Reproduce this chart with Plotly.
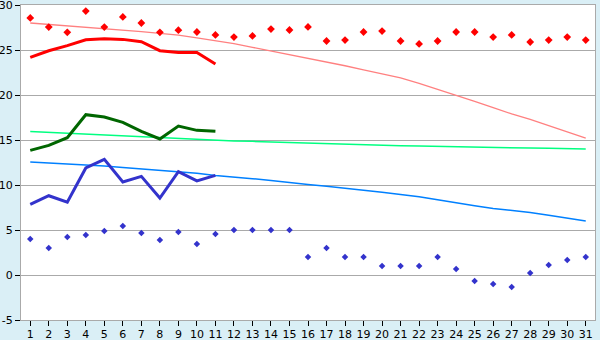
import plotly.graph_objects as go

days = list(range(1, 32))
day_labels = [str(d) for d in days]

record_high = [28.56, 27.55, 26.96, 29.33, 27.55, 28.67, 28.0, 26.96, 27.2, 27.0,
               26.67, 26.44, 26.56, 27.33, 27.22, 27.56, 26.0, 26.1, 27.0, 27.1,
               26.0, 25.67, 26.0, 27.0, 27.0, 26.44, 26.67, 25.89, 26.1, 26.44, 26.1]
normal_high = [28.0, 27.85, 27.7, 27.55, 27.4, 27.25, 27.05, 26.85, 26.65, 26.35,
               26.05, 25.7, 25.3, 24.9, 24.5, 24.1, 23.7, 23.25, 22.8, 22.35,
               21.9, 21.3, 20.65, 20.0, 19.3, 18.6, 17.9, 17.3, 16.6, 15.9, 15.2]
actual_high = [24.18, 24.92, 25.48, 26.14, 26.26, 26.18, 25.92, 24.92, 24.73, 24.73, 23.44]

actual_mean = [13.85, 14.4, 15.26, 17.81, 17.55, 16.96, 15.96, 15.11, 16.55, 16.07, 15.96]
normal_mean = [15.95, 15.85, 15.75, 15.65, 15.55, 15.45, 15.35, 15.25, 15.15, 15.05,
               14.97, 14.9, 14.85, 14.78, 14.72, 14.65, 14.6, 14.55, 14.48, 14.42,
               14.37, 14.33, 14.28, 14.25, 14.2, 14.17, 14.13, 14.1, 14.07, 14.04, 14.0]

actual_low = [7.85, 8.81, 8.1, 11.89, 12.85, 10.33, 10.96, 8.55, 11.48, 10.45, 11.07]
normal_low = [12.55, 12.45, 12.35, 12.25, 12.1, 11.95, 11.8, 11.6, 11.45, 11.3,
              11.05, 10.9, 10.7, 10.5, 10.25, 10.05, 9.85, 9.65, 9.4, 9.2,
              8.95, 8.7, 8.35, 8.0, 7.7, 7.4, 7.2, 6.95, 6.65, 6.3, 6.0]
record_low = [4.0, 3.0, 4.22, 4.44, 4.89, 5.44, 4.67, 3.89, 4.78, 3.44,
              4.56, 5.0, 5.0, 5.0, 5.0, 2.0, 3.0, 2.0, 2.0, 1.0,
              1.0, 1.0, 2.0, 0.67, -0.67, -1.0, -1.33, 0.22, 1.11, 1.67, 2.0]

y_ticks = [-5, 0, 5, 10, 15, 20, 25, 30]

fig = go.Figure()

fig.add_trace(go.Scatter(x=days, y=normal_high, mode="lines",
                         line=dict(color="#ff8080", width=1.3), hoverinfo="skip"))
fig.add_trace(go.Scatter(x=days, y=normal_mean, mode="lines",
                         line=dict(color="#00ff80", width=1.5), hoverinfo="skip"))
fig.add_trace(go.Scatter(x=days, y=normal_low, mode="lines",
                         line=dict(color="#0080ff", width=1.5), hoverinfo="skip"))
fig.add_trace(go.Scatter(x=days[:len(actual_high)], y=actual_high, mode="lines",
                         line=dict(color="#ff0000", width=3)))
fig.add_trace(go.Scatter(x=days[:len(actual_mean)], y=actual_mean, mode="lines",
                         line=dict(color="#006600", width=3)))
fig.add_trace(go.Scatter(x=days[:len(actual_low)], y=actual_low, mode="lines",
                         line=dict(color="#3333cc", width=3)))
fig.add_trace(go.Scatter(x=days, y=record_high, mode="markers",
                         marker=dict(symbol="diamond", size=6, color="#ff0000")))
fig.add_trace(go.Scatter(x=days, y=record_low, mode="markers",
                         marker=dict(symbol="diamond", size=5, color="#3333cc")))

fig.update_layout(
    width=600, height=340,
    margin=dict(l=21, r=5, t=5, b=20, autoexpand=False),
    paper_bgcolor="#daeff6",
    plot_bgcolor="#ffffff",
    showlegend=False,
    font=dict(family="DejaVu Sans", size=11, color="#000000"),
)
fig.update_xaxes(
    range=[0.5, 31.5], tickmode="array", tickvals=days, ticktext=day_labels,
    showgrid=False, zeroline=False, showline=True, linecolor="#aaaaaa", linewidth=1,
    mirror=True, ticks="outside", ticklen=5, tickcolor="#000000", tickfont=dict(size=11),
    automargin=False, ticklabeloverflow="allow", ticklabelstandoff=-1,
)
fig.update_yaxes(
    range=[-5.0001, 30.0001], tickmode="array", tickvals=y_ticks,
    ticktext=[str(v) for v in y_ticks],
    showgrid=True, gridcolor="#aaaaaa", gridwidth=1, zeroline=False,
    showline=True, linecolor="#aaaaaa", linewidth=1, mirror=True,
    ticks="outside", ticklen=5, tickcolor="#000000", tickfont=dict(size=11),
    automargin=False, ticklabeloverflow="allow",
)

fig.write_html("out.html")
